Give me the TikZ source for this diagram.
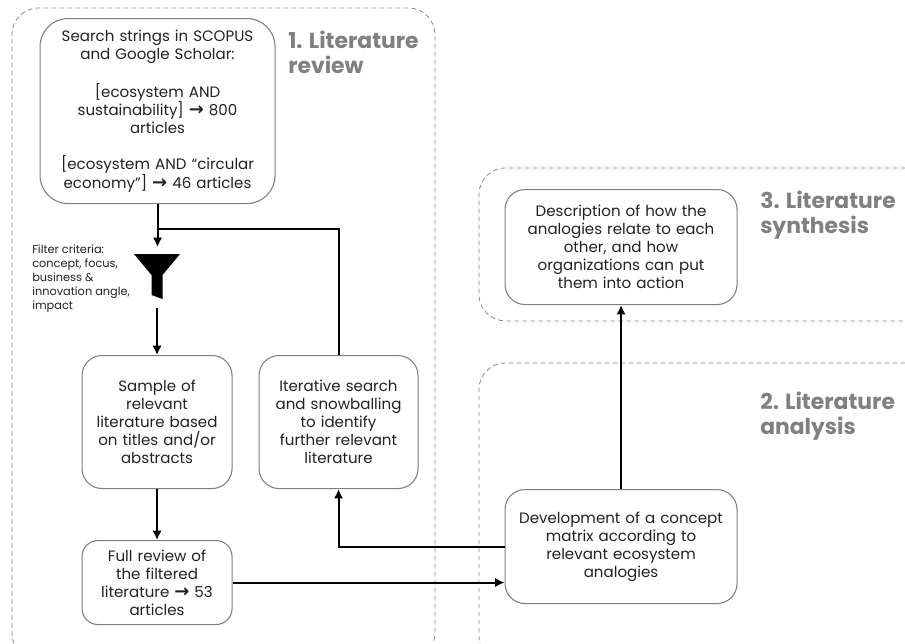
\documentclass[tikz,border=0pt]{standalone}
\usepackage{fontspec}
\setmainfont{Poppins}
\newfontfamily\arrowfont{DejaVu Sans}
\usetikzlibrary{arrows.meta}
\newcommand{\rarr}{{\fontsize{13.5pt}{13.5pt}\arrowfont\bfseries\symbol{"2192}}}
\definecolor{boxline}{HTML}{7F7F7F}
\definecolor{dashline}{HTML}{8A8A8A}
\definecolor{headtext}{HTML}{808080}
\definecolor{bodytext}{HTML}{222222}
\tikzset{
  x=0.75pt,y=-0.75pt,
  stagebox/.style={draw=boxline,line width=0.8pt,fill=white,rounded corners=15pt,inner sep=2pt,align=center,text=bodytext,anchor=north west,
    font=\fontsize{11.3pt}{13.6pt}\selectfont},
  groupbox/.style={draw=dashline,line width=0.6pt,dash pattern=on 3.5pt off 2.5pt,rounded corners=20pt,anchor=north west,inner sep=0pt},
  heading/.style={text=headtext,anchor=north west,align=left,inner sep=0pt,font=\fontsize{16.4pt}{18.4pt}\selectfont\bfseries},
  flow/.style={line width=1.5pt,draw=black,-{Latex[length=7pt,width=7pt]}},
  plainflow/.style={line width=1.5pt,draw=black},
  note/.style={anchor=north west,inner sep=0pt,align=left,text=bodytext,font=\fontsize{8.5pt}{10.5pt}\selectfont}
}
\begin{document}
\begin{tikzpicture}
\useasboundingbox (0,0) rectangle (905,643);
\clip (0,0) rectangle (905,643);
\path[fill=white] (0,0) rectangle (905,643);
% groups
\node[groupbox,minimum width=317.25pt,minimum height=489pt] (g1) at (11.5,7.5) {};
\node[groupbox,minimum width=340pt,minimum height=114.75pt] (g3) at (478.5,167.5) {};
\node[groupbox,minimum width=340pt,minimum height=225pt] (g2) at (478.5,362.5) {};
% headings
\node[heading] (h1) at (288,31) {1. Literature\\review};
\node[heading] (h3) at (760,191) {3. Literature\\synthesis};
\node[heading] (h2) at (760,392) {2. Literature\\analysis};
% boxes
\node[stagebox,rounded corners=21pt,text width=171pt,minimum width=176.25pt,minimum height=138.75pt] (search) at (39.5,18)
  {Search strings in SCOPUS\\and Google Scholar:\\[13.6pt][ecosystem AND\\sustainability] \rarr{} 800\\articles\\[13.6pt][ecosystem AND “circular\\economy”] \rarr{} 46 articles};
\node[stagebox,text width=108pt,minimum width=112.5pt,minimum height=99.75pt] (sample) at (81.5,355)
  {Sample of\\relevant\\literature based\\on titles and/or\\abstracts};
\node[stagebox,text width=115pt,minimum width=119.25pt,minimum height=99.75pt] (iter) at (258.5,355)
  {Iterative search\\and snowballing\\to identify\\further relevant\\literature};
\node[stagebox,rounded corners=12pt,text width=108pt,minimum width=112.5pt,minimum height=63pt] (full) at (81.5,540)
  {Full review of\\the filtered\\literature \rarr{} 53\\articles};
\node[stagebox,text width=170pt,minimum width=174pt,minimum height=85.5pt] (dev) at (504.5,489)
  {Development of a concept\\matrix according to\\relevant ecosystem\\analogies};
\node[stagebox,text width=170pt,minimum width=174pt,minimum height=86.25pt] (desc) at (504.5,189)
  {Description of how the\\analogies relate to each\\other, and how\\organizations can put\\them into action};
% note
\node[note] (filter) at (32,245) {Filter criteria:\\concept, focus,\\business \&\\innovation angle,\\impact};
% funnel
\fill[black] (134,254) -- (180,254) -- (162.5,275) -- (162.5,299) -- (151.5,295) -- (151.5,275) -- cycle;
\coordinate (funneltop) at (157,247);
\coordinate (funnelbot) at (157,308);
\coordinate (join) at (157,229);
% connectors
\draw[flow] (search.south) -- (search.south |- funneltop);
\draw[plainflow] (iter.north) |- (join);
\draw[flow] (funnelbot -| sample.north) -- (sample.north);
\draw[flow] (sample.south) -- (full.north);
\draw[flow] (full.east) -- (full.east -| dev.west);
\draw[flow] (dev.west) -| (iter.south);
\draw[flow] (dev.north) -- (desc.south);
\end{tikzpicture}
\end{document}
